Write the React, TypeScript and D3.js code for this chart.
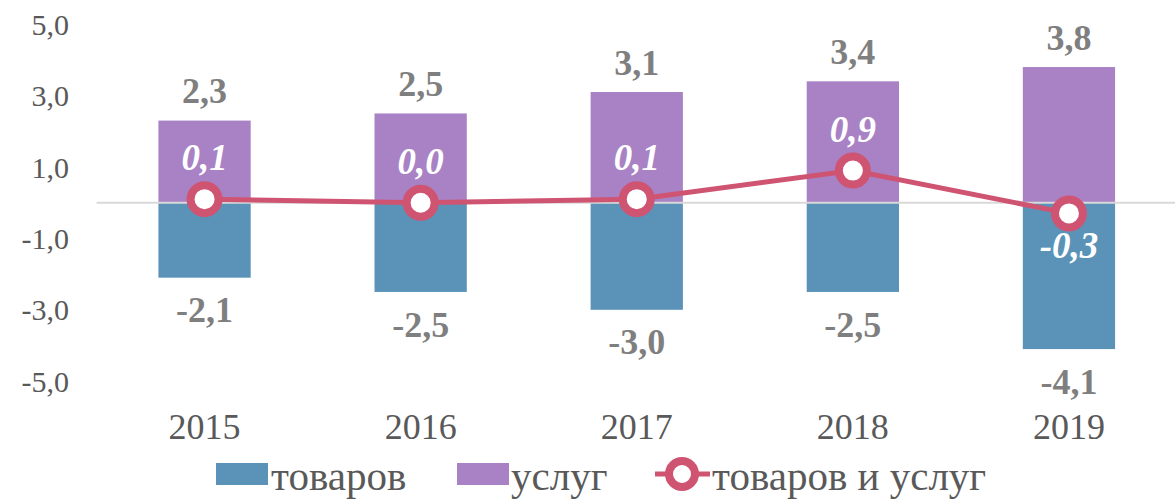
import React from "react";
import * as d3 from "d3";

const years = ["2015", "2016", "2017", "2018", "2019"];
const goods = [-2.1, -2.5, -3.0, -2.5, -4.1];
const services = [2.3, 2.5, 3.1, 3.4, 3.8];
const total = [0.1, 0.0, 0.1, 0.9, -0.3];
const yTicks = [5, 3, 1, -1, -3, -5];
const legendLabels = ["товаров", "услуг", "товаров и услуг"];

const W = 1175;
const H = 501;
const BLUE = "#5B93B8";
const PURPLE = "#A882C5";
const RED = "#CF5472";
const LABEL = "#7F7F7F";
const AXIS = "#595959";
const FONT = "'Liberation Serif', 'Times New Roman', serif";

const fmt = (v: number) => v.toFixed(1).replace(".", ",");

export default function App() {
  const x = d3.scaleBand<string>().domain(years).range([96.5, 1177]).padding(0);
  const y = d3.scaleLinear().domain([-5, 5]).range([381.2, 24.2]);
  const bw = x.bandwidth() * 0.427;
  const cx = (d: string) => (x(d) as number) + x.bandwidth() / 2;

  const line = d3
    .line<number>()
    .x((_, i) => cx(years[i]))
    .y((v) => y(v));

  return (
    <svg
      width={W}
      height={H}
      style={{ position: "absolute", left: 0, top: 0, background: "#fff" }}
      fontFamily={FONT}
    >
      {/* y tick labels */}
      {yTicks.map((t) => (
        <text
          key={t}
          x={69}
          y={y(t)}
          dy="0.35em"
          textAnchor="end"
          fontSize={30}
          fill={AXIS}
        >
          {fmt(t)}
        </text>
      ))}

      {/* bars */}
      {years.map((yr, i) => (
        <g key={yr}>
          <rect
            x={cx(yr) - bw / 2}
            y={y(0)}
            width={bw}
            height={y(goods[i]) - y(0)}
            fill={BLUE}
          />
          <rect
            x={cx(yr) - bw / 2}
            y={y(services[i])}
            width={bw}
            height={y(0) - y(services[i])}
            fill={PURPLE}
          />
        </g>
      ))}

      {/* zero line */}
      <line x1={96.5} x2={W} y1={y(0)} y2={y(0)} stroke="#D9D9D9" strokeWidth={2} />

      {/* bar value labels */}
      {years.map((yr, i) => (
        <g key={"l" + yr} fontWeight="bold" fontSize={36} fill={LABEL} textAnchor="middle">
          <text x={cx(yr)} y={y(services[i]) - 30} dy="0.35em">
            {fmt(services[i])}
          </text>
          <text x={cx(yr)} y={y(goods[i]) + 32} dy="0.35em">
            {fmt(goods[i])}
          </text>
        </g>
      ))}

      {/* line */}
      <path d={line(total) || ""} fill="none" stroke={RED} strokeWidth={5} />
      {total.map((v, i) => (
        <circle
          key={"c" + i}
          cx={cx(years[i])}
          cy={y(v)}
          r={14}
          fill="#fff"
          stroke={RED}
          strokeWidth={8}
        />
      ))}
      {total.map((v, i) => (
        <text
          key={"t" + i}
          x={cx(years[i])}
          y={v >= 0 ? y(v) - 42 : y(v) + 32}
          dy="0.35em"
          textAnchor="middle"
          fontWeight="bold"
          fontStyle="italic"
          fontSize={37}
          fill="#fff"
        >
          {fmt(v)}
        </text>
      ))}

      {/* x labels */}
      {years.map((yr) => (
        <text
          key={"x" + yr}
          x={cx(yr)}
          y={439}
          textAnchor="middle"
          fontSize={36}
          fill={AXIS}
        >
          {yr}
        </text>
      ))}

      {/* legend */}
      <g fontSize={41} fill={AXIS}>
        <rect x={216} y={463} width={52} height={22} fill={BLUE} />
        <text x={271} y={490}>{legendLabels[0]}</text>
        <rect x={457} y={463} width={52} height={22} fill={PURPLE} />
        <text x={511} y={490}>{legendLabels[1]}</text>
        <line x1={655} x2={710} y1={474} y2={474} stroke={RED} strokeWidth={5} />
        <circle cx={682} cy={474} r={13} fill="#fff" stroke={RED} strokeWidth={8} />
        <text x={712} y={490}>{legendLabels[2]}</text>
      </g>
    </svg>
  );
}
